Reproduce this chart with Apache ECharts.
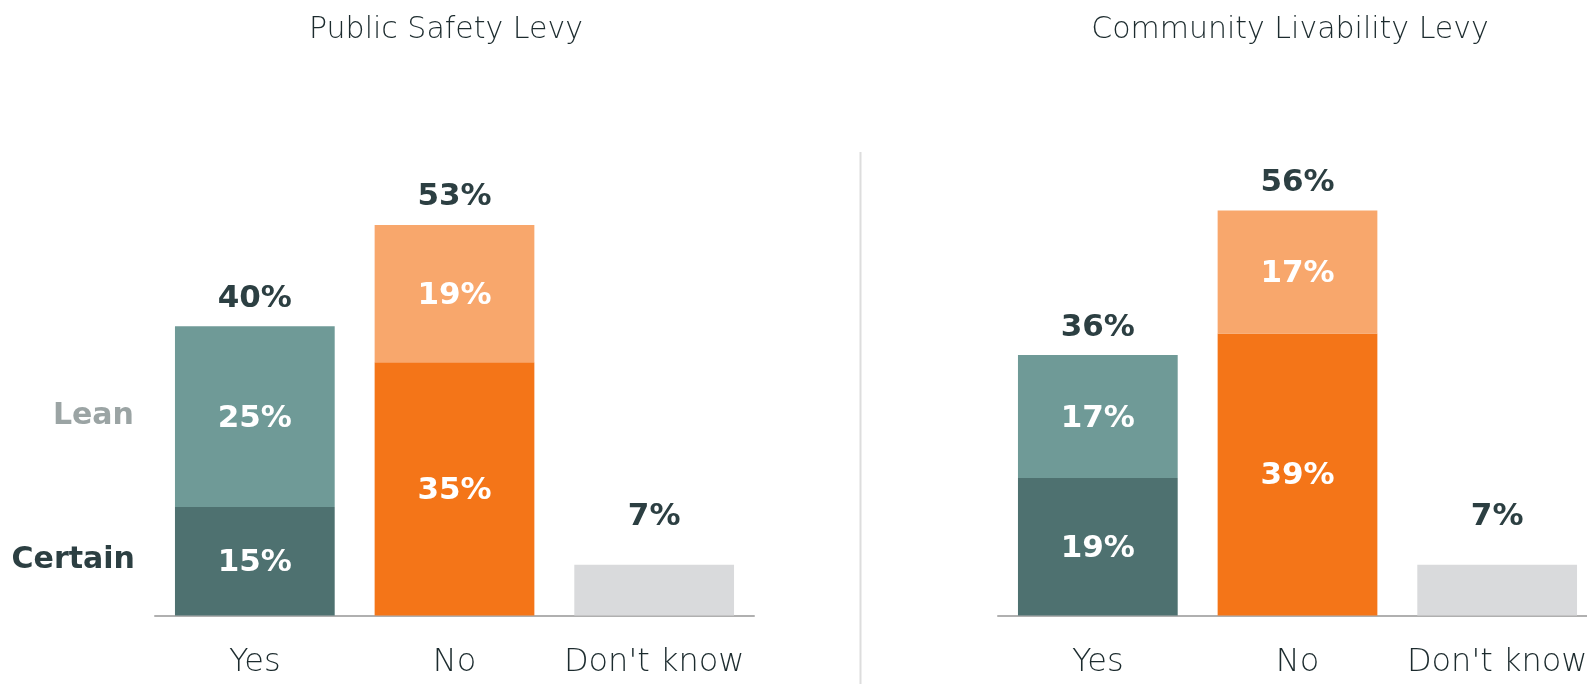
<!DOCTYPE html>
<html>
<head>
<meta charset="utf-8">
<script src="https://cdn.jsdelivr.net/npm/echarts@6/dist/echarts.min.js"></script>
<style>
html,body{margin:0;padding:0;background:#fff;overflow:hidden;width:1587px;height:684px;}
#main{width:1620px;height:684px;}
</style>
</head>
<body>
<div id="main"></div>
<script>
// ---- data ----
var categories = ['Yes', 'No', "Don't know"];
var chartTitles = ['Public Safety Levy', 'Community Livability Levy'];
var certainLeft = [15, 35, 7];
var leanLeft = [25, 19, '-'];
var totalLeft = [40, 53, 7];
var certainRight = [19, 39, 7];
var leanRight = [17, 17, '-'];
var totalRight = [36, 56, 7];
var segmentNames = ['Certain', 'Lean'];

var DARK = '#2c3f42';
var LIGHTTEXT = '#1c2b2e';
var FONT = '"DejaVu Sans", Lato, sans-serif';
var certainColors = ['#4e7170', '#f47518', '#d9dadc'];
var leanColors = ['#6f9a97', '#f8a76c', '#d9dadc'];

var chart = echarts.init(document.getElementById('main'));

var grids = [
  {left: 155, width: 599, top: 181.5, bottom: 68.5},
  {left: 998, width: 599, top: 181.5, bottom: 68.5}
];

function xAxis(i) {
  return {
    type: 'category', gridIndex: i, data: categories,
    axisLine: {lineStyle: {color: '#b0b0b0', width: 2}},
    axisTick: {show: false},
    axisLabel: {color: LIGHTTEXT, fontFamily: FONT, fontSize: 32, fontWeight: 200, margin: 31, interval: 0}
  };
}
function yAxis(i) {
  return {type: 'value', gridIndex: i, min: 0, max: 60, show: false, splitLine: {show: false}};
}

function inLabel() {
  return {show: true, position: 'inside', offset: [0, 2], color: '#fff', fontFamily: FONT, fontSize: 31, fontWeight: 'bold',
    formatter: function (p) { return p.value + '%'; }};
}

function makeSeries(i, certain, lean, total) {
  var stack = 's' + i;
  return [
    {
      name: segmentNames[0], type: 'bar', xAxisIndex: i, yAxisIndex: i, stack: stack, barWidth: '80%',
      data: certain.map(function (v, k) {
        var d = {value: v, itemStyle: {color: certainColors[k]}};
        if (lean[k] === '-') d.label = {show: false};
        return d;
      }),
      label: inLabel(), silent: true
    },
    {
      name: segmentNames[1], type: 'bar', xAxisIndex: i, yAxisIndex: i, stack: stack, barWidth: '80%',
      data: lean.map(function (v, k) { return {value: v, itemStyle: {color: leanColors[k]}}; }),
      label: inLabel(), silent: true
    },
    {
      name: 'Total', type: 'bar', xAxisIndex: i, yAxisIndex: i, stack: stack, barWidth: '80%',
      data: total.map(function (v, k) {
        var d = {value: 0};
        if (lean[k] === '-') d.label = {distance: 32};
        return d;
      }),
      itemStyle: {color: 'transparent'},
      label: {show: true, position: 'top', distance: 12, color: DARK, fontFamily: FONT, fontSize: 31, fontWeight: 'bold',
        formatter: function (p) { return total[p.dataIndex] + '%'; }},
      silent: true
    }
  ];
}

var option = {
  animation: false,
  backgroundColor: '#fff',
  grid: grids,
  xAxis: [xAxis(0), xAxis(1)],
  yAxis: [yAxis(0), yAxis(1)],
  series: [].concat(makeSeries(0, certainLeft, leanLeft, totalLeft), makeSeries(1, certainRight, leanRight, totalRight))
};
chart.setOption(option);

// side labels and titles, placed from the axes
var p0 = chart.convertToPixel({xAxisIndex: 0, yAxisIndex: 0}, [0, certainLeft[0] / 2]);
var p1 = chart.convertToPixel({xAxisIndex: 0, yAxisIndex: 0}, [0, certainLeft[0] + leanLeft[0] / 2]);
var barHalf = 599 / 3 * 0.8 / 2;
var graphics = [
  {type: 'text', x: p0[0] - barHalf - 40, y: p0[1] - 1, style: {text: segmentNames[0], fill: DARK, font: 'bold 30px ' + FONT, textAlign: 'right', textVerticalAlign: 'middle'}},
  {type: 'text', x: p1[0] - barHalf - 41, y: p1[1], style: {text: segmentNames[1], fill: '#9ba4a4', font: 'bold 30px ' + FONT, textAlign: 'right', textVerticalAlign: 'middle'}},
  {type: 'text', x: 446, y: 30, style: {text: chartTitles[0], fill: LIGHTTEXT, font: '200 30px ' + FONT, textAlign: 'center', textVerticalAlign: 'middle'}},
  {type: 'text', x: 1290, y: 30, style: {text: chartTitles[1], fill: LIGHTTEXT, font: '200 30px ' + FONT, textAlign: 'center', textVerticalAlign: 'middle'}},
  {type: 'line', shape: {x1: 860.5, y1: 152, x2: 860.5, y2: 684}, style: {stroke: '#dddddd', lineWidth: 2}}
];
chart.setOption({graphic: graphics});
</script>
</body>
</html>
